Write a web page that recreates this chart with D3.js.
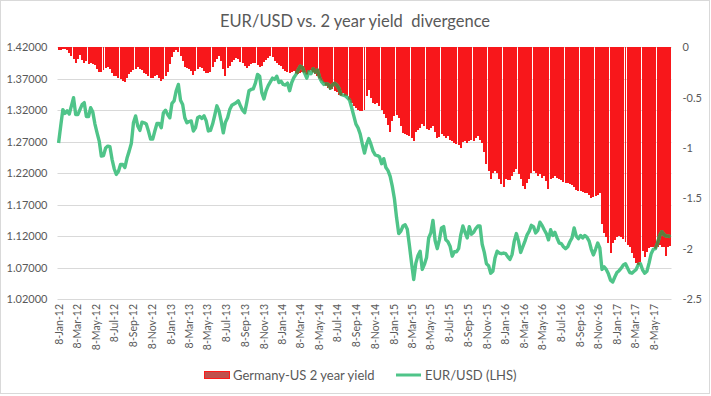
<!DOCTYPE html>
<html>
<head>
<meta charset="utf-8">
<script src="https://cdn.jsdelivr.net/npm/d3@7"></script>
<style>
  body { margin: 0; background: #fff; }
  text { font-family: Lato, "Open Sans", sans-serif; fill: #595959; }
</style>
</head>
<body>
<div id="chart"></div>
<script>
// weekly data, first week
const firstWeek = "2012-01-08";

// EUR/USD (left axis)
const eurusd = [
  1.268, 1.295, 1.321, 1.315, 1.319, 1.314, 1.327, 1.340, 1.313, 1.313,
  1.321, 1.329, 1.332, 1.310, 1.310, 1.324, 1.317, 1.298, 1.284, 1.271,
  1.247, 1.248, 1.260, 1.263, 1.262, 1.242, 1.227, 1.218, 1.223, 1.234,
  1.234, 1.229, 1.244, 1.255, 1.267, 1.300, 1.311, 1.295, 1.288, 1.301,
  1.300, 1.298, 1.287, 1.274, 1.274, 1.287, 1.299, 1.299, 1.292, 1.316,
  1.320, 1.313, 1.308, 1.331, 1.335, 1.351, 1.361, 1.336, 1.329, 1.308,
  1.300, 1.302, 1.303, 1.287, 1.292, 1.308, 1.310, 1.307, 1.311, 1.303,
  1.287,
  1.288, 1.298, 1.312, 1.327, 1.319, 1.303, 1.284, 1.301, 1.308, 1.321,
  1.328, 1.330, 1.332, 1.335, 1.327, 1.320, 1.316, 1.333, 1.351, 1.353,
  1.354, 1.363, 1.377, 1.374, 1.348, 1.338, 1.351, 1.359, 1.365, 1.371,
  1.369, 1.374, 1.364, 1.366, 1.361, 1.360, 1.363, 1.351, 1.364, 1.372,
  1.377, 1.384, 1.390, 1.388, 1.379, 1.371, 1.381, 1.378, 1.386, 1.381,
  1.384, 1.372, 1.365, 1.361, 1.362, 1.361, 1.355, 1.360, 1.363, 1.360,
  1.355, 1.345, 1.344, 1.343, 1.340, 1.336, 1.324, 1.311, 1.298, 1.292,
  1.282, 1.266, 1.252, 1.266, 1.275, 1.266, 1.255, 1.249, 1.248, 1.246,
  1.235, 1.243, 1.229, 1.224, 1.215, 1.199, 1.179, 1.149, 1.124, 1.128,
  1.136, 1.138, 1.131, 1.105, 1.077, 1.051, 1.077, 1.089, 1.096, 1.067,
  1.075, 1.086, 1.117, 1.125, 1.145, 1.113, 1.100, 1.114, 1.133, 1.135,
  1.114, 1.111, 1.104, 1.088, 1.095, 1.095, 1.100, 1.122, 1.136, 1.126,
  1.117, 1.135, 1.123, 1.126, 1.132, 1.136, 1.136, 1.107, 1.094, 1.076,
  1.073, 1.061, 1.064, 1.085, 1.096, 1.093, 1.092, 1.093, 1.092, 1.087,
  1.083, 1.091, 1.112, 1.124, 1.112, 1.094, 1.103, 1.112, 1.122, 1.128,
  1.137, 1.135, 1.125, 1.129, 1.142, 1.137, 1.130, 1.124, 1.114, 1.130,
  1.121, 1.126, 1.117, 1.109, 1.108, 1.103, 1.100, 1.103, 1.111, 1.117,
  1.133, 1.120, 1.116, 1.121, 1.117, 1.121, 1.118, 1.112, 1.099, 1.090,
  1.099, 1.109, 1.101, 1.067, 1.071, 1.067, 1.060, 1.050, 1.047, 1.055,
  1.062, 1.065, 1.069, 1.074, 1.076, 1.069, 1.062, 1.061, 1.064, 1.067,
  1.075, 1.076, 1.066, 1.061, 1.064, 1.077, 1.092, 1.099, 1.100, 1.109,
  1.121, 1.127, 1.122, 1.120, 1.120, 1.119
];

// Germany-US 2 year yield spread (right axis)
const spread = [
  -0.03, -0.03, -0.02, -0.02, -0.03, -0.06, -0.09, -0.12, -0.16, -0.12,
  -0.08, -0.13, -0.16, -0.14, -0.17, -0.16, -0.17, -0.18, -0.22, -0.25,
  -0.25, -0.23, -0.21, -0.20, -0.22, -0.26, -0.29, -0.29, -0.30, -0.31,
  -0.33, -0.34, -0.30, -0.27, -0.25, -0.23, -0.22, -0.20, -0.22, -0.23,
  -0.26, -0.27, -0.29, -0.30, -0.30, -0.29, -0.28, -0.30, -0.33, -0.31,
  -0.29, -0.25, -0.17, -0.10, -0.05, -0.03, -0.05, -0.09, -0.14, -0.20,
  -0.21, -0.22, -0.24, -0.28, -0.24, -0.22, -0.20, -0.21, -0.24, -0.26,
  -0.26,
  -0.25, -0.20, -0.15, -0.12, -0.09, -0.14, -0.22, -0.29, -0.21, -0.19,
  -0.15, -0.13, -0.11, -0.12, -0.15, -0.16, -0.19, -0.21, -0.19, -0.17,
  -0.16, -0.16, -0.18, -0.20, -0.19, -0.15, -0.13, -0.11, -0.09, -0.10,
  -0.14, -0.16, -0.18, -0.19, -0.22, -0.24, -0.25, -0.26, -0.25, -0.24,
  -0.26, -0.27, -0.26, -0.25, -0.25, -0.27, -0.24, -0.23, -0.25, -0.27,
  -0.29, -0.31, -0.33, -0.35, -0.38, -0.40, -0.42, -0.41, -0.43, -0.44,
  -0.47, -0.48, -0.45, -0.48, -0.48, -0.52, -0.55, -0.58, -0.60, -0.62,
  -0.63, -0.63, -0.62, -0.48, -0.42, -0.50, -0.55, -0.56, -0.55, -0.58,
  -0.62, -0.66, -0.70, -0.77, -0.84, -0.73, -0.68, -0.67, -0.70, -0.78,
  -0.85, -0.86, -0.87, -0.88, -0.90, -0.93, -0.84, -0.82, -0.80, -0.76,
  -0.78, -0.81, -0.82, -0.80, -0.78, -0.84, -0.90, -0.89, -0.86, -0.88,
  -0.90, -0.88, -0.92, -0.93, -0.95, -0.96, -0.97, -1.00, -0.94, -0.93,
  -0.95, -0.93, -0.92, -0.93, -0.90, -0.88, -0.92, -0.95, -1.04, -1.16,
  -1.23, -1.31, -1.25, -1.23, -1.25, -1.31, -1.36, -1.39, -1.31, -1.32,
  -1.32, -1.28, -1.24, -1.21, -1.26, -1.31, -1.38, -1.41, -1.35, -1.31,
  -1.25, -1.23, -1.25, -1.28, -1.26, -1.30, -1.28, -1.33, -1.41, -1.31,
  -1.30, -1.28, -1.30, -1.31, -1.32, -1.34, -1.35, -1.35, -1.36, -1.37,
  -1.39, -1.42, -1.43, -1.43, -1.44, -1.45, -1.45, -1.47, -1.50, -1.49,
  -1.48, -1.47, -1.45, -1.76, -1.84, -1.88, -1.94, -2.04, -1.94, -1.91,
  -1.88, -1.87, -1.88, -1.90, -1.93, -1.96, -1.98, -2.04, -2.09, -2.14,
  -2.16, -2.13, -2.02, -2.08, -2.03, -1.99, -1.98, -1.98, -2.00, -1.98,
  -1.96, -1.98, -1.98, -2.07, -1.98, -1.97
];

const xTickLabels = [
  "8-Jan-12", "8-Mar-12", "8-May-12", "8-Jul-12", "8-Sep-12", "8-Nov-12",
  "8-Jan-13", "8-Mar-13", "8-May-13", "8-Jul-13", "8-Sep-13", "8-Nov-13",
  "8-Jan-14", "8-Mar-14", "8-May-14", "8-Jul-14", "8-Sep-14", "8-Nov-14",
  "8-Jan-15", "8-Mar-15", "8-May-15", "8-Jul-15", "8-Sep-15", "8-Nov-15",
  "8-Jan-16", "8-Mar-16", "8-May-16", "8-Jul-16", "8-Sep-16", "8-Nov-16",
  "8-Jan-17", "8-Mar-17", "8-May-17"
];
const leftTicks = [1.02, 1.07, 1.12, 1.17, 1.22, 1.27, 1.32, 1.37, 1.42];
const rightTicks = [0, -0.5, -1, -1.5, -2, -2.5];

const width = 711, height = 396;
const plot = { left: 57.5, right: 671.5, top: 47.3, bottom: 299 };

const svg = d3.select("#chart").append("svg")
  .attr("width", width)
  .attr("height", height);

svg.append("rect")
  .attr("x", 0.5).attr("y", 0.5)
  .attr("width", width - 2).attr("height", height - 3)
  .attr("fill", "#fff")
  .attr("stroke", "#d9d9d9");

// dates
const start = d3.timeParse("%Y-%m-%d")(firstWeek);
const weeks = eurusd.map((_, i) => d3.timeDay.offset(start, 7 * i));
const parseTick = d3.timeParse("%e-%b-%y");
const tickDates = xTickLabels.map((t) => parseTick(t));

// scales
const xTime = d3.scaleTime()
  .domain([new Date(+weeks[0] - 3.5 * 864e5), new Date(+weeks[weeks.length - 1] + 3.5 * 864e5)])
  .range([plot.left, plot.right]);

const pad = 0.07;
const xBand = d3.scaleBand()
  .domain(d3.range(spread.length))
  .range([plot.left, plot.right])
  .paddingInner(pad)
  .paddingOuter(pad / 2);

const yLeft = d3.scaleLinear().domain([1.02, 1.42]).range([plot.bottom, plot.top]);
const yRight = d3.scaleLinear().domain([-2.5, 0]).range([plot.bottom, plot.top]);

// gridlines
svg.append("g")
  .selectAll("line")
  .data(leftTicks)
  .join("line")
  .attr("x1", plot.left)
  .attr("x2", plot.right)
  .attr("y1", (d) => Math.round(yLeft(d)) + 0.5)
  .attr("y2", (d) => Math.round(yLeft(d)) + 0.5)
  .attr("stroke", "#d9d9d9");

// bars
const bars = svg.append("g").attr("shape-rendering", "crispEdges");
bars.selectAll("rect")
  .data(spread)
  .join("rect")
  .attr("x", (d, i) => xBand(i))
  .attr("width", xBand.bandwidth())
  .attr("y", yRight(0))
  .attr("height", (d) => yRight(d) - yRight(0))
  .attr("fill", "#f8171b");

// clip for the darker part of the line over bars
const clip = svg.append("defs").append("clipPath").attr("id", "barclip");
clip.selectAll("rect")
  .data(spread)
  .join("rect")
  .attr("x", (d, i) => xBand(i) - 0.3)
  .attr("width", xBand.step() + 0.6)
  .attr("y", yRight(0))
  .attr("height", (d) => yRight(d) - yRight(0));

const line = d3.line()
  .x((d, i) => xTime(weeks[i]))
  .y((d) => yLeft(d));

svg.append("path")
  .datum(eurusd)
  .attr("d", line)
  .attr("fill", "none")
  .attr("stroke", "#4fc489")
  .attr("stroke-width", 3.4)
  .attr("stroke-linejoin", "round");

svg.append("path")
  .datum(eurusd)
  .attr("d", line)
  .attr("fill", "none")
  .attr("stroke", "#5d7c3c")
  .attr("stroke-width", 3.4)
  .attr("stroke-linejoin", "round")
  .attr("clip-path", "url(#barclip)");

// axes
const leftAxis = svg.append("g")
  .attr("transform", `translate(${plot.left},0)`)
  .call(d3.axisLeft(yLeft).tickValues(leftTicks).tickSize(0).tickPadding(10).tickFormat(d3.format(".5f")));
leftAxis.select(".domain").remove();

const rightAxis = svg.append("g")
  .attr("transform", `translate(${plot.right},0)`)
  .call(d3.axisRight(yRight).tickValues(rightTicks).tickSize(0).tickPadding(11).tickFormat((d) => d3.format("")(d).replace("−", "-")));
rightAxis.select(".domain").remove();

const xAxis = svg.append("g")
  .attr("transform", `translate(0,${plot.bottom})`)
  .call(d3.axisBottom(xTime).tickValues(tickDates).tickSize(0).tickFormat((d, i) => xTickLabels[i]));
xAxis.select(".domain").remove();
xAxis.selectAll("text")
  .attr("transform", "rotate(-90)")
  .attr("x", -5)
  .attr("y", 0)
  .attr("dy", "0.35em")
  .style("text-anchor", "end");

svg.selectAll(".tick text")
  .style("font-size", "11px")
  .style("fill", "#595959")
  .style("font-family", "Lato, 'Open Sans', sans-serif");
xAxis.selectAll("text").style("font-size", "10.5px");

// title
svg.append("text")
  .attr("x", 355)
  .attr("y", 27)
  .attr("text-anchor", "middle")
  .style("font-size", "16.5px")
  .text("EUR/USD vs. 2 year yield\u00a0 divergence");

// legend
const legend = svg.append("g");
legend.append("rect")
  .attr("x", 204.5).attr("y", 371.5)
  .attr("width", 25).attr("height", 7)
  .attr("fill", "#c0504d")
  .attr("stroke", "#ff1a1a");
legend.append("text")
  .attr("x", 233).attr("y", 375)
  .attr("dy", "0.35em")
  .style("font-size", "13px")
  .text("Germany-US 2 year yield");
legend.append("line")
  .attr("x1", 396).attr("x2", 421)
  .attr("y1", 375).attr("y2", 375)
  .attr("stroke", "#4fc489")
  .attr("stroke-width", 3);
legend.append("text")
  .attr("x", 425).attr("y", 375)
  .attr("dy", "0.35em")
  .style("font-size", "13px")
  .text("EUR/USD (LHS)");
</script>
</body>
</html>
